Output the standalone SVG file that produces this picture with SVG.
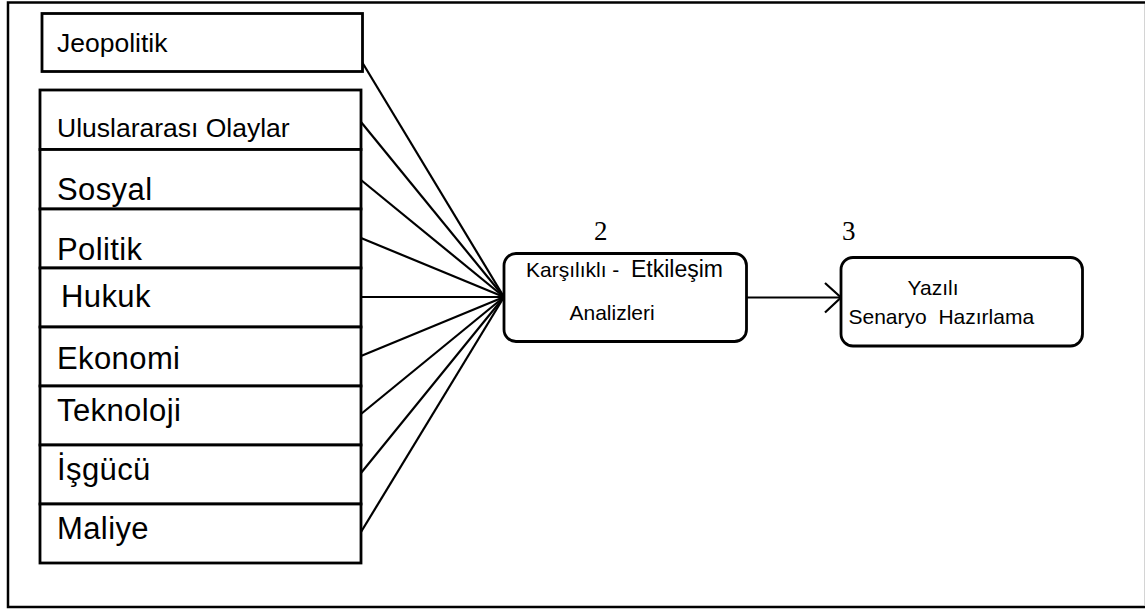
<svg xmlns="http://www.w3.org/2000/svg" width="1145" height="610" viewBox="0 0 1145 610">
<defs>
<style>
.box{fill:#fff;stroke:#000;stroke-width:2.8}
.rbox{fill:#fff;stroke:#000;stroke-width:2.8}
.lbl{font-family:"Liberation Sans",Arial,sans-serif;fill:#000}
.big{font-size:31px;letter-spacing:0.4px}
.small{font-size:26.5px}
.mid{font-size:21px}
.num{font-family:"Liberation Serif","Times New Roman",serif;font-size:27px;fill:#000}
.conn{stroke:#000;stroke-width:2.2;fill:none}
</style>
</defs>
<rect width="1145" height="610" fill="#fff"/>
<g id="frame">
<path d="M1147,2.5 H8 V607 H1147" fill="none" stroke="#000" stroke-width="2.5"/>
<line x1="1144.5" y1="4" x2="1144.5" y2="605" stroke="#d4d4d4" stroke-width="1"/>
</g>
<g id="connectors">
<line class="conn" x1="362" y1="62" x2="504" y2="297"/>
<line class="conn" x1="361" y1="122" x2="504" y2="297"/>
<line class="conn" x1="361" y1="180" x2="504" y2="297"/>
<line class="conn" x1="361" y1="238" x2="504" y2="297"/>
<line class="conn" x1="361" y1="297" x2="504" y2="297"/>
<line class="conn" x1="361" y1="356" x2="504" y2="297"/>
<line class="conn" x1="361" y1="414" x2="504" y2="297"/>
<line class="conn" x1="361" y1="473" x2="504" y2="297"/>
<line class="conn" x1="361" y1="532" x2="504" y2="297"/>
<line class="conn" x1="746" y1="297.5" x2="840" y2="297.5"/>
<polyline class="conn" points="825,283 841,297.5 825,312.5"/>
</g>
<g id="n-jeopolitik">
<rect class="box" x="42" y="13.5" width="320.5" height="58"/>
<text class="lbl small" x="57" y="52">Jeopolitik</text>
</g>
<g id="n-uluslararasi">
<rect class="box" x="40" y="90" width="321" height="59.5"/>
<text class="lbl small" x="57" y="137">Uluslararası Olaylar</text>
</g>
<g id="n-sosyal">
<rect class="box" x="40" y="149.5" width="321" height="59.5"/>
<text class="lbl big" x="57" y="199.5">Sosyal</text>
</g>
<g id="n-politik">
<rect class="box" x="40" y="209" width="321" height="59"/>
<text class="lbl big" x="57" y="259.5">Politik</text>
</g>
<g id="n-hukuk">
<rect class="box" x="40" y="268" width="321" height="59"/>
<text class="lbl big" x="61" y="307">Hukuk</text>
</g>
<g id="n-ekonomi">
<rect class="box" x="40" y="327" width="321" height="59"/>
<text class="lbl big" x="57" y="368.5">Ekonomi</text>
</g>
<g id="n-teknoloji">
<rect class="box" x="40" y="386" width="321" height="59"/>
<text class="lbl big" x="57" y="420.5">Teknoloji</text>
</g>
<g id="n-isgucu">
<rect class="box" x="40" y="445" width="321" height="59"/>
<text class="lbl big" x="57" y="479.5">İşgücü</text>
</g>
<g id="n-maliye">
<rect class="box" x="40" y="504" width="321" height="59"/>
<text class="lbl big" x="57" y="538.5">Maliye</text>
</g>
<g id="n-analiz">
<text class="num" x="594" y="240">2</text>
<rect class="rbox" x="504" y="253.5" width="242.5" height="88" rx="12" ry="12"/>
<text class="lbl mid" x="526" y="277"><tspan style="font-size:21px">Karşılıklı - </tspan><tspan x="631" style="font-size:23px">Etkileşim</tspan></text>
<text class="lbl mid" x="569.5" y="319.5">Analizleri</text>
</g>
<g id="n-senaryo">
<text class="num" x="842" y="240">3</text>
<rect class="rbox" x="841" y="257.5" width="241.5" height="88.5" rx="12" ry="12"/>
<text class="lbl mid" x="907.5" y="294.5">Yazılı</text>
<text class="lbl mid" x="848.5" y="323.5" xml:space="preserve">Senaryo  Hazırlama</text>
</g>
</svg>
